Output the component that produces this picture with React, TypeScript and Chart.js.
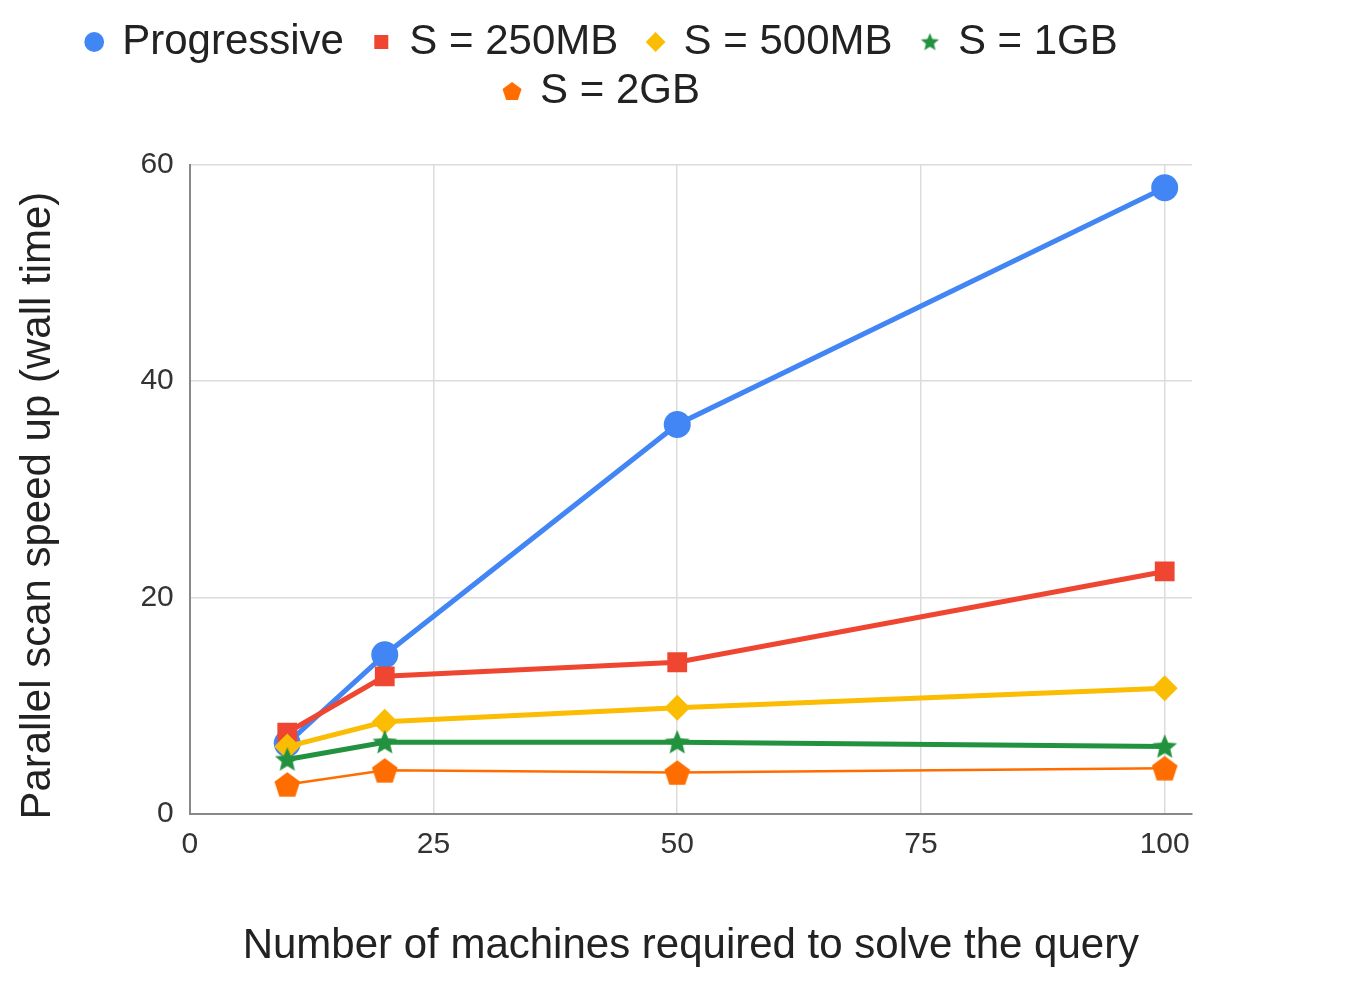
import { useEffect, useRef } from 'react';
import { Chart, registerables } from 'chart.js';

Chart.register(...registerables);

const FONT = "'Liberation Sans', Arial, Helvetica, sans-serif";

// values
const machines = [10, 20, 50, 100];
const progressive = [6.5, 14.7, 36.0, 57.9];
const s250MB = [7.5, 12.7, 14.0, 22.4];
const s500MB = [6.2, 8.5, 9.8, 11.6];
const s1GB = [5.0, 6.6, 6.6, 6.2];
const s2GB = [2.7, 4.0, 3.8, 4.2];
const seriesLabels = ['Progressive', 'S = 250MB', 'S = 500MB', 'S = 1GB', 'S = 2GB'];
const xTicks = [0, 25, 50, 75, 100];

const colors = ['#4285F4', '#EE4631', '#FBBC04', '#23923F', '#FF6D01'];

// star / pentagon markers drawn on small canvases
function makeShape(kind: 'star' | 'pentagon', radius: number, color: string) {
  const size = Math.ceil(radius * 2 + 2);
  const c = document.createElement('canvas');
  c.width = size;
  c.height = size;
  const ctx = c.getContext('2d')!;
  const cx = size / 2;
  const cy = size / 2 + (kind === 'pentagon' ? radius * 0.1 : radius * 0.05);
  const n = kind === 'star' ? 10 : 5;
  ctx.beginPath();
  for (let i = 0; i < n; i++) {
    const a = -Math.PI / 2 + (i * 2 * Math.PI) / n;
    const r = kind === 'star' && i % 2 ? radius * 0.45 : radius;
    const x = cx + r * Math.cos(a);
    const y = cy + r * Math.sin(a);
    if (i === 0) ctx.moveTo(x, y);
    else ctx.lineTo(x, y);
  }
  ctx.closePath();
  ctx.fillStyle = color;
  ctx.fill();
  return c;
}

const legendSpacing = {
  id: 'legendSpacing',
  beforeInit(chart: any) {
    const legend = chart.legend;
    const fit = legend.fit;
    legend.fit = function () {
      this.maxWidth = Math.min(this.maxWidth, 1100);
      fit.call(this);
      this.height += 43;
    };
  },
};

export default function App() {
  const canvasRef = useRef<HTMLCanvasElement>(null);

  useEffect(() => {
    if (!canvasRef.current) return;
    const ctx = canvasRef.current.getContext('2d');
    if (!ctx) return;

    Chart.defaults.font.family = FONT;

    const starBig = makeShape('star', 13, colors[3]);
    const pentBig = makeShape('pentagon', 13.5, colors[4]);
    const starSmall = makeShape('star', 9.5, colors[3]);
    const pentSmall = makeShape('pentagon', 10, colors[4]);

    const series = [progressive, s250MB, s500MB, s1GB, s2GB];
    const pointStyles: any[] = ['circle', 'rect', 'rectRot', starBig, pentBig];
    const pointRadii = [13.5, 14, 13, 13, 13.5];
    const legendStyles: any[] = ['circle', 'rect', 'rectRot', starSmall, pentSmall];

    const chart = new Chart(ctx, {
      type: 'line',
      data: {
        datasets: series.map((values, i) => ({
          label: seriesLabels[i],
          data: machines.map((m, j) => ({ x: m, y: values[j] })),
          borderColor: colors[i],
          backgroundColor: colors[i],
          pointBackgroundColor: colors[i],
          borderWidth: i === 4 ? 2.5 : 5,
          pointStyle: pointStyles[i],
          pointRadius: pointRadii[i],
          pointBorderWidth: 0,
          tension: 0,
          fill: false,
          order: 5 - i,
        })),
      },
      options: {
        animation: false,
        responsive: true,
        maintainAspectRatio: false,
        events: [],
        layout: { padding: { top: 14, left: 13, right: 166, bottom: 0 } },
        scales: {
          x: {
            type: 'linear',
            min: 0,
            max: 102.8,
            afterBuildTicks: (axis: any) => {
              axis.ticks = xTicks.map((value) => ({ value }));
            },
            ticks: { padding: 13, color: '#333', font: { size: 30 } },
            grid: { color: '#dcdcdc', lineWidth: 1.5, drawTicks: false },
            border: { color: '#888', width: 2, z: 1 },
            title: {
              display: true,
              text: 'Number of machines required to solve the query',
              color: '#222',
              font: { size: 42 },
              padding: { top: 46, bottom: 11 },
            },
          },
          y: {
            min: 0,
            max: 60,
            ticks: { stepSize: 20, padding: 16, color: '#333', font: { size: 30 } },
            grid: { color: '#dcdcdc', lineWidth: 1.5, drawTicks: false },
            border: { color: '#888', width: 2, z: 1 },
            title: {
              display: true,
              text: 'Parallel scan speed up (wall time)\u2002 ',
              color: '#222',
              font: { size: 42 },
              padding: { top: 0, bottom: 61 },
            },
          },
        },
        plugins: {
          tooltip: { enabled: false },
          legend: {
            position: 'top',
            labels: {
              usePointStyle: true,
              boxWidth: 14,
              boxHeight: 14,
              padding: 7,
              color: '#222',
              font: { size: 42 },
              sort: (a: any, b: any) => a.datasetIndex - b.datasetIndex,
              generateLabels: (c: any) => {
                const items = Chart.defaults.plugins.legend.labels.generateLabels(c);
                return items.map((it: any) => ({
                  ...it,
                  text: it.datasetIndex < 3 ? it.text + '  ' : it.text,
                  pointStyle: legendStyles[it.datasetIndex],
                  lineWidth: 0,
                }));
              },
            },
          },
        },
      },
      plugins: [legendSpacing],
    });

    return () => {
      chart.destroy();
    };
  }, []);

  return (
    <div style={{ position: 'fixed', left: 0, top: 0, width: 1358, height: 983, background: '#fff' }}>
      <canvas ref={canvasRef}></canvas>
    </div>
  );
}
